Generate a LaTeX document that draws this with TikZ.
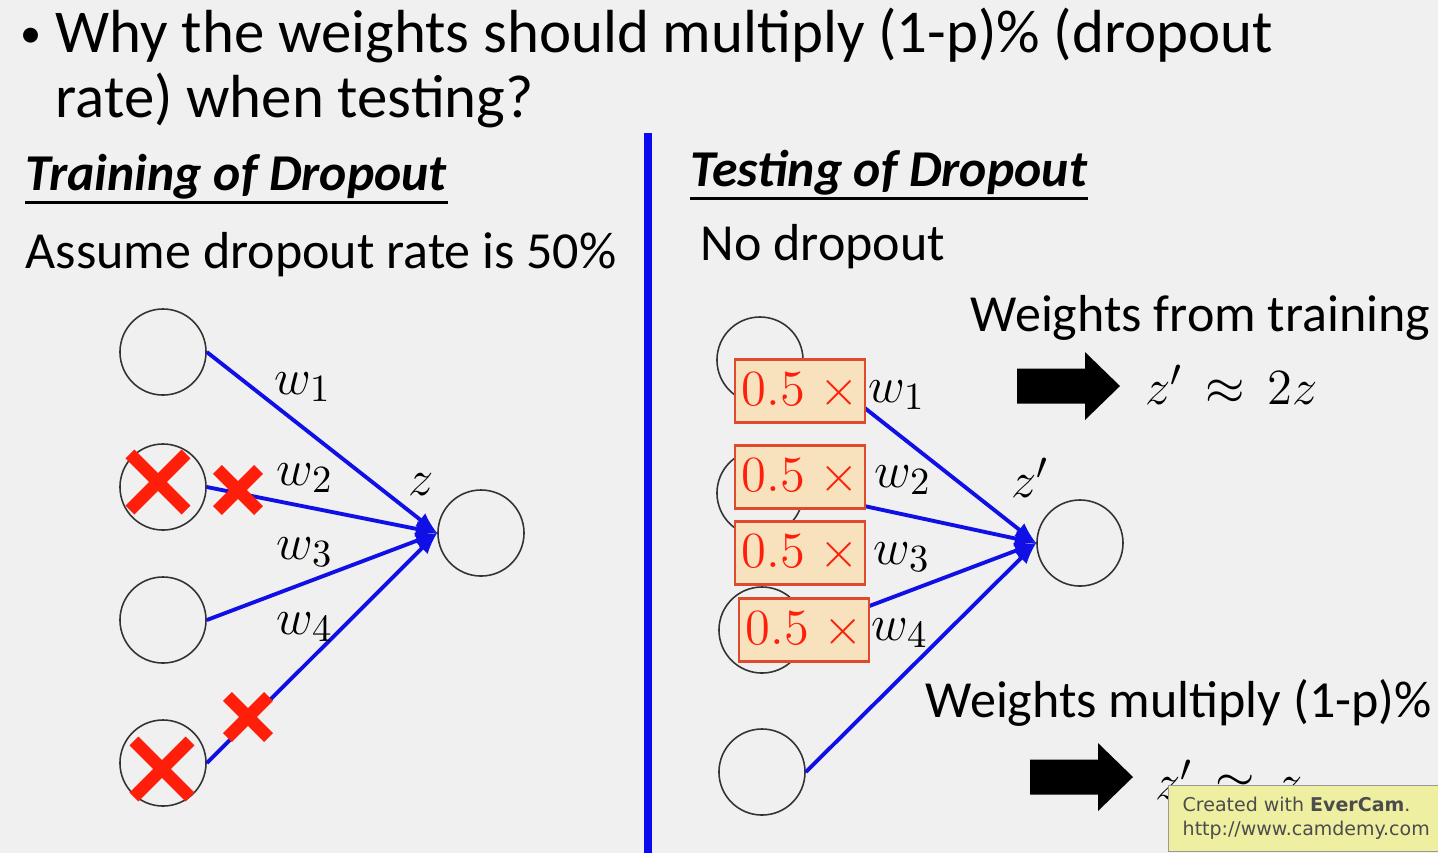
\documentclass[tikz,border=0pt]{standalone}
\usepackage{amsmath,amssymb}
\usepackage{fontspec}
\setmainfont{Carlito}
\newfontfamily\stampfont{DejaVu Sans}
\usepackage{xcolor}
\usepackage{tikz}
\usetikzlibrary{arrows,positioning,calc,shapes.misc}
\definecolor{slidegray}{HTML}{F0F0F0}
\definecolor{linkblue}{HTML}{1010E6}
\definecolor{ruleblue}{HTML}{0A0AF0}
\definecolor{dropred}{HTML}{FF1E0A}
\definecolor{boxtan}{HTML}{F8E2BE}
\definecolor{boxred}{HTML}{E04A2C}
\definecolor{stampyellow}{HTML}{EFEFA2}

\tikzset{
  neuron/.style={circle, draw=black!80, line width=0.45pt, minimum size=0.86cm, inner sep=0pt},
  link/.style={linkblue, line width=1.1pt},
  dropmark/.style={cross out, draw=dropred, line width=3.6pt, inner sep=0pt, outer sep=0pt},
  scalebox/.style={draw=boxred, fill=boxtan, text=dropred, line width=0.6pt,
    minimum width=1.3cm, minimum height=0.63cm, inner sep=0pt, font=\fontsize{15.5}{18}\selectfont},
  wlabel/.style={inner sep=0pt, font=\fontsize{15.5}{18}\selectfont},
  result/.style={anchor=west, inner sep=0pt, font=\fontsize{15.5}{18}\selectfont},
  slidetext/.style={anchor=base west, inner sep=0pt, font=\fontsize{14.8}{17}\selectfont},
  heading/.style={anchor=base west, inner sep=0pt, font=\fontsize{14.7}{17}\selectfont\bfseries\itshape},
  question/.style={anchor=base west, inner sep=0pt, font=\fontsize{17.3}{20}\selectfont},
  fatarrow/.pic={\fill[black] (0,-17.5) -- (68,-17.5) -- (68,-34) -- (103,0) -- (68,34) -- (68,17.5) -- (0,17.5) -- cycle;}
}

\begin{document}
\begin{tikzpicture}[x=0.01cm, y=-0.01cm]
\fill[slidegray] (0,0) rectangle (1438,853);
\useasboundingbox (0,0) rectangle (1438,853);
% Question
\node[question, font=\fontsize{12}{14}\selectfont] (bullet) at (20,47) {•};
\node[question] (qline1) at (55,52) {Why the weights should multiply (1-p)\% (dropout};
\node[question] (qline2) at (55,117) {rate) when testing?};
% Divider
\coordinate (divtop) at (648,133);
\coordinate (divbot) at (648,853);
\draw[ruleblue, line width=2.3pt] (divtop) -- (divbot);
% Training side
\node[heading] (trainhead) at (25,190) {Training of Dropout};
\draw[line width=0.9pt] ([yshift=-0.8pt]trainhead.south west) -- ([yshift=-0.8pt]trainhead.south east);
\node[slidetext] (trainnote) at (25,268) {Assume dropout rate is 50\%};
\node[neuron] (tin1) at (163,352) {};
\node[neuron] (tin2) at (163,487) {};
\node[neuron] (tin3) at (163,620) {};
\node[neuron] (tin4) at (163,763) {};
\node[neuron] (tout) at (481,533) {};
\draw[link,-latex] (tin1.east) -- (tout.west);
\draw[link,-latex] (tin2.east) -- (tout.west);
\draw[link,-latex] (tin3.east) -- (tout.west);
\draw[link,-latex] (tin4.east) -- (tout.west);
\node[wlabel] (tw1) at (303,387) {$w_1$};
\node[wlabel] (tw2) at (305,478) {$w_2$};
\node[wlabel] (tw3) at (305,552) {$w_3$};
\node[wlabel] (tw4) at (305,627) {$w_4$};
\node[wlabel] (tz) at (421,485) {$z$};
% Dropped units (red X)
\node[dropmark, minimum size=0.56cm] (tdrop2) at (158,482) {};
\node[dropmark, minimum size=0.41cm] (tcut2) at (238,490) {};
\node[dropmark, minimum size=0.56cm] (tdrop4) at (162,769) {};
\node[dropmark, minimum size=0.41cm] (tcut4) at (248,717) {};
% Testing side
\node[heading] (testhead) at (690,186) {Testing of Dropout};
\draw[line width=0.9pt] ([yshift=-0.8pt]testhead.south west) -- ([yshift=-0.8pt]testhead.south east);
\node[slidetext] (testnote) at (700,260) {No dropout};
\node[neuron] (sin1) at (760,360) {};
\node[neuron] (sin2) at (760,493) {};
\node[neuron] (sin3) at (762,630) {};
\node[neuron] (sin4) at (762,772) {};
\node[neuron] (sout) at (1080,543) {};
\draw[link,-latex] (sin1.east) -- (sout.west);
\draw[link,-latex] (sin2.east) -- (sout.west);
\draw[link,-latex] (sin3.east) -- (sout.west);
\draw[link,-latex] (sin4.east) -- (sout.west);
% Scaled weights
\node[scalebox] (sb1) at (800,391) {$0.5\;{\times}$};
\node[scalebox] (sb2) at (800,477) {$0.5\;{\times}$};
\node[scalebox] (sb3) at (800,553) {$0.5\;{\times}$};
\node[scalebox] (sb4) at (804,630) {$0.5\;{\times}$};
\node[wlabel] (sw1) at (897,395) {$w_1$};
\node[wlabel] (sw2) at (903,480) {$w_2$};
\node[wlabel] (sw3) at (902,557) {$w_3$};
\node[wlabel] (sw4) at (900,633) {$w_4$};
\node[wlabel] (sz) at (1030,478) {$z'$};
% Notes on the right
\node[slidetext] (fromtrain) at (970,331) {Weights from training};
\pic (arrtrain) at (1017,386) {fatarrow};
\node[result] (ztrain) at (1145,385) {$z'\,\approx\, 2z$};
\node[slidetext] (multnote) at (925,717) {Weights multiply (1-p)\%};
\pic (arrtest) at (1030,777) {fatarrow};
\node[result] (ztest) at (1155,780) {$z'\,\approx\, z$};
% Recorder stamp
\node[draw=black!40, fill=stampyellow, anchor=north west, minimum width=2.68cm, minimum height=0.55cm,
  inner xsep=0.14cm, align=left, text=black!70, font=\stampfont\fontsize{5.4}{6.8}\selectfont] (stamp) at (1168,785)
  {Created with \textbf{EverCam}.\\http://www.camdemy.com};
\end{tikzpicture}
\end{document}
